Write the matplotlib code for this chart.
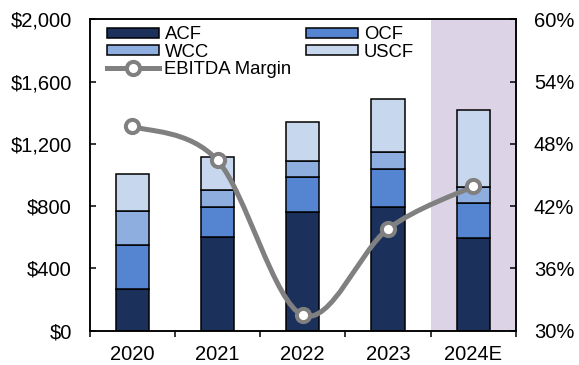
import matplotlib
matplotlib.use("Agg")
import matplotlib.pyplot as plt
from matplotlib.path import Path
from matplotlib.patches import PathPatch, Patch
from matplotlib.lines import Line2D
from matplotlib.ticker import FuncFormatter, FixedLocator
import numpy as np

plt.rcParams['font.family'] = ['Liberation Sans', 'DejaVu Sans']

years = ["2020", "2021", "2022", "2023", "2024E"]
acf = [270, 602, 765, 795, 595]
ocf = [278, 195, 224, 243, 226]
wcc = [220, 104, 101, 107, 104]
uscf = [238, 213, 252, 344, 490]
margin = [49.7, 46.4, 31.5, 39.8, 43.9]

c_acf = "#1B315C"
c_ocf = "#5585D0"
c_wcc = "#8FAEE0"
c_uscf = "#C7D7EE"
c_line = "#808080"
c_shade = "#DCD4E6"

fig = plt.figure(figsize=(5.79, 3.65), dpi=100)
ax = fig.add_axes([0.155, 0.094, 0.7357, 0.853])
ax2 = ax.twinx()

x = np.arange(len(years))
ax.axvspan(3.5, 4.5, color=c_shade, zorder=0, lw=0)

w = 0.39
ekw = dict(edgecolor="black", linewidth=1.1, width=w, zorder=2)
b0 = np.zeros(len(years))
series = [(acf, c_acf, "ACF"), (ocf, c_ocf, "OCF"), (wcc, c_wcc, "WCC"), (uscf, c_uscf, "USCF")]
for vals, col, lab in series:
    ax.bar(x, vals, bottom=b0, color=col, label=lab, **ekw)
    b0 = b0 + np.array(vals)

ax.set_xlim(-0.5, 4.5)
ax.set_ylim(0, 2000)
ax2.set_ylim(30, 60)

# smoothed line (Catmull-Rom style bezier, like Excel smoothing)
pts = np.column_stack([x, margin]).astype(float)
ext = np.vstack([pts[0], pts, pts[-1]])
verts = [tuple(pts[0])]
codes = [Path.MOVETO]
for i in range(len(pts) - 1):
    p0, p1, p2, p3 = ext[i], ext[i + 1], ext[i + 2], ext[i + 3]
    c1 = p1 + (p2 - p0) / 6.0
    c2 = p2 - (p3 - p1) / 6.0
    verts += [tuple(c1), tuple(c2), tuple(p2)]
    codes += [Path.CURVE4] * 3
ax2.add_patch(PathPatch(Path(verts, codes), fill=False, edgecolor=c_line, lw=3.6,
                        capstyle="round", joinstyle="round", zorder=3))
ax2.plot(x, margin, linestyle="none", marker="o", markersize=9.5,
         markerfacecolor="white", markeredgecolor=c_line, markeredgewidth=2.9, zorder=4)

# ticks
ax.yaxis.set_major_locator(FixedLocator([0, 400, 800, 1200, 1600, 2000]))
ax.yaxis.set_major_formatter(FuncFormatter(lambda v, p: "${:,.0f}".format(v)))
ax2.yaxis.set_major_locator(FixedLocator([30, 36, 42, 48, 54, 60]))
ax2.yaxis.set_major_formatter(FuncFormatter(lambda v, p: "{:.0f}%".format(v)))
ax.set_xticks(x)
ax.set_xticklabels(years)
ax.set_xticks(np.arange(-0.5, 5.0, 1.0), minor=True)
ax.tick_params(axis="x", which="major", length=0, pad=10.5, labelsize=14.5)
ax.tick_params(axis="x", which="minor", length=4, width=1.1, direction="out")
ax.tick_params(axis="y", direction="in", length=4, width=1.1, pad=13, labelsize=14.5)
ax2.tick_params(axis="y", direction="in", length=4, width=1.1, pad=13, labelsize=14.5)

for a in (ax, ax2):
    for s in a.spines.values():
        s.set_linewidth(1.1)
        s.set_color("black")

handles = [
    Patch(facecolor=c_acf, edgecolor="black", linewidth=1.1),
    Patch(facecolor=c_wcc, edgecolor="black", linewidth=1.1),
    Line2D([], [], color=c_line, lw=3.6, marker="o", markersize=9.5,
           markerfacecolor="white", markeredgecolor=c_line, markeredgewidth=2.9),
    Patch(facecolor=c_ocf, edgecolor="black", linewidth=1.1),
    Patch(facecolor=c_uscf, edgecolor="black", linewidth=1.1),
]
labels = ["ACF", "WCC", "EBITDA Margin", "OCF", "USCF"]
ax2.legend(handles, labels, ncol=2, loc="upper left", bbox_to_anchor=(0.041, 0.978),
           frameon=False, borderpad=0, borderaxespad=0, fontsize=13.3,
           handlelength=2.8, handleheight=0.45, handletextpad=0.3,
           labelspacing=0.02, columnspacing=0.8)

fig.savefig("out.png", dpi=100)
